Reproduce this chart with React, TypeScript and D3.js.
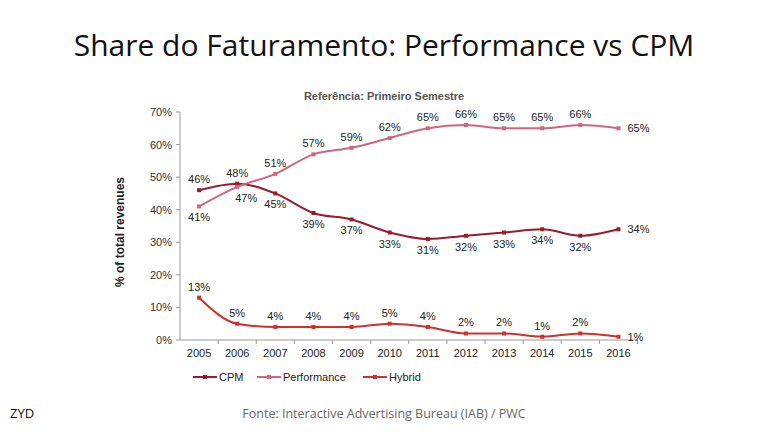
import React from "react";
import * as d3 from "d3";

const years = ["2005","2006","2007","2008","2009","2010","2011","2012","2013","2014","2015","2016"];
const cpm = [46,48,45,39,37,33,31,32,33,34,32,34];
const performance = [41,47,51,57,59,62,65,66,65,65,66,65];
const hybrid = [13,5,4,4,4,5,4,2,2,1,2,1];
const yTicks = [0,10,20,30,40,50,60,70];
// label placement per point: a = above, b = below, r = right
const cpmPlace = ["a","a","b","b","b","b","b","b","b","b","b","r"];
const perfPlace = ["b","b","a","a","a","a","a","a","a","a","a","r"];
const hybPlace = ["a","a","a","a","a","a","a","a","a","a","a","r"];

const series = [
  { name: "CPM", values: cpm, place: cpmPlace, color: "#9a1b2b" },
  { name: "Performance", values: performance, place: perfPlace, color: "#d36480" },
  { name: "Hybrid", values: hybrid, place: hybPlace, color: "#d2302c" },
];

export default function App() {
  const W = 768, H = 432;
  const x = d3.scaleBand().domain(years).range([180, 637.5]);
  const y = d3.scaleLinear().domain([0, 70]).range([340, 112]);
  const cx = (yr: string) => (x(yr) as number) + x.bandwidth() / 2;
  const line = d3.line<number>()
    .x((_, i) => cx(years[i]))
    .y((v) => y(v))
    .curve(d3.curveMonotoneX);
  const font = "'Liberation Sans', Arial, sans-serif";
  const legendX = [193, 257, 363];
  return (
    <svg width={W} height={H} style={{ position: "absolute", left: 0, top: 0, background: "#fff" }}>
      <rect width={W} height={H} fill="#fff" />
      <text x={384} y={56} textAnchor="middle" fontFamily="'Open Sans', sans-serif" fontSize={30} fill="#111">
        Share do Faturamento: Performance vs CPM
      </text>
      <text x={384} y={100} textAnchor="middle" fontFamily={font} fontWeight="bold" fontSize={11} fill="#555">
        Referência: Primeiro Semestre
      </text>
      {/* axes */}
      <line x1={180} x2={180} y1={112} y2={340} stroke="#999" />
      <line x1={180} x2={637.5} y1={340} y2={340} stroke="#999" />
      {yTicks.map((t) => (
        <g key={t}>
          <line x1={176} x2={180} y1={y(t)} y2={y(t)} stroke="#999" />
          <text x={172} y={y(t) + 4} textAnchor="end" fontFamily={font} fontSize={11} fill="#333">{t}%</text>
        </g>
      ))}
      {years.map((yr, i) => (
        <g key={yr}>
          <line x1={(x(yr) as number) + x.bandwidth()} x2={(x(yr) as number) + x.bandwidth()} y1={340} y2={344} stroke="#999" />
          <text x={cx(yr)} y={357} textAnchor="middle" fontFamily={font} fontSize={11} fill="#222">{yr}</text>
        </g>
      ))}
      <text transform={`translate(124,232) rotate(-90)`} textAnchor="middle" fontFamily={font} fontWeight="bold" fontSize={12} fill="#222">
        % of total revenues
      </text>
      {series.map((s) => (
        <g key={s.name}>
          <path d={line(s.values) || ""} fill="none" stroke={s.color} strokeWidth={2} />
          {s.values.map((v, i) => (
            <rect key={i} x={cx(years[i]) - 2} y={y(v) - 2} width={4} height={4} fill={s.color} />
          ))}
          {s.values.map((v, i) => {
            const p = s.place[i];
            let tx = cx(years[i]);
            let ty = y(v);
            let anchor: "middle" | "start" = "middle";
            if (p === "a") ty = ty - 7;
            else if (p === "b") ty = ty + 15;
            else { tx = tx + 9; ty = ty + 4; anchor = "start"; }
            if (s.name === "Performance" && i === 1) tx += 9;
            return (
              <text key={"l" + i} x={tx} y={ty} textAnchor={anchor} fontFamily={font} fontSize={11} fill="#222">{v}%</text>
            );
          })}
        </g>
      ))}
      {series.map((s, k) => (
        <g key={"lg" + s.name}>
          <line x1={legendX[k]} x2={legendX[k] + 24} y1={377} y2={377} stroke={s.color} strokeWidth={2} />
          <rect x={legendX[k] + 10} y={375} width={4} height={4} fill={s.color} />
          <text x={legendX[k] + 26} y={381} fontFamily={font} fontSize={11} fill="#222">{s.name}</text>
        </g>
      ))}
      <text x={384} y={418} textAnchor="middle" fontFamily="'Open Sans', sans-serif" fontSize={12.5} fill="#666">
        Fonte: Interactive Advertising Bureau (IAB) / PWC
      </text>
      <text x={10} y={418} fontFamily="'Open Sans', sans-serif" fontSize={13} fill="#111">ZYD</text>
    </svg>
  );
}
